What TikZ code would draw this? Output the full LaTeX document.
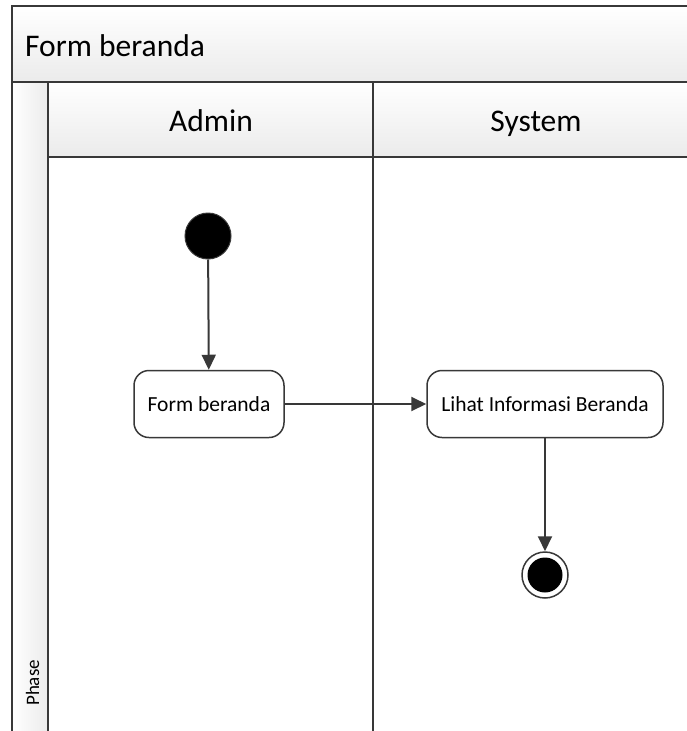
\documentclass[tikz,border=0pt]{standalone}
\usepackage{fontspec}
\setmainfont{Carlito}
\usetikzlibrary{arrows.meta}
\definecolor{edge}{HTML}{383838}
\definecolor{headlo}{HTML}{EBEBEB}
\begin{document}
\begin{tikzpicture}[x=1pt,y=-1pt,
  frame/.style={draw=edge,line width=1.5pt},
  header/.style={frame,top color=white,bottom color=headlo},
  sideheader/.style={frame,left color=white,right color=headlo},
  action/.style={draw=edge,line width=1.5pt,rounded corners=15pt,fill=white,
    minimum height=67pt,inner sep=0pt,font=\fontsize{21.5}{24}\selectfont},
  flow/.style={draw=edge,line width=2pt,-{Triangle[length=15pt,width=14pt]}},
  lanetitle/.style={font=\fontsize{31.5}{36}\selectfont,anchor=base}]
\useasboundingbox (0,0) rectangle (686,731);
% pool title bar
\path[header] (12,6) -- (700,6) -- (700,82) -- (12,82) -- cycle;
\node[lanetitle,anchor=base west,inner sep=0pt] (pool) at (25,56) {Form beranda};
% phase column
\path[sideheader] (12,82) rectangle (48,740);
\node[rotate=90,anchor=base west,inner sep=0pt,font=\fontsize{19}{22}\selectfont] (phase) at (39,706) {Phase};
% lane headers
\path[header] (48,82) rectangle (373,157);
\path[header] (373,82) rectangle (700,157);
\node[lanetitle] (admin) at (211,131) {Admin};
\node[lanetitle] (system) at (536,131) {System};
% lane bodies
\draw[frame] (48,157) -- (48,740);
\draw[frame] (373,157) -- (373,740);
% activity nodes
\node[circle,fill=black,draw=edge,line width=1pt,minimum size=46pt,inner sep=0pt] (start) at (208,236) {};
\node[action,minimum width=150pt] (form) at (209,404) {Form beranda};
\node[action,minimum width=236pt] (lihat) at (545,404) {Lihat Informasi Beranda};
\node[circle,draw=edge,fill=white,line width=1.5pt,minimum size=46pt,inner sep=0pt] (end) at (545,575) {};
\node[circle,fill=black,minimum size=35pt,inner sep=0pt] (endcore) at (end) {};
% transitions
\draw[flow] (start) -- (form);
\draw[flow] (form) -- (lihat);
\draw[flow] (lihat) -- (end);
\end{tikzpicture}
\end{document}
